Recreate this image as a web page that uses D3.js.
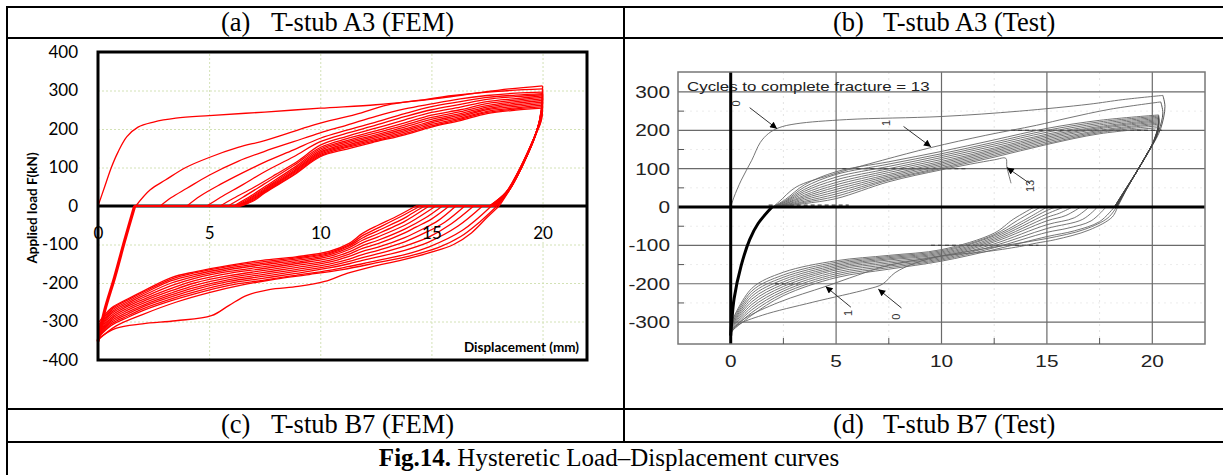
<!DOCTYPE html>
<html>
<head>
<meta charset="utf-8">
<script src="https://cdn.jsdelivr.net/npm/d3@7"></script>
<style>
  body { margin: 0; background: #fff; }
  svg { display: block; }
</style>
</head>
<body>
<svg id="fig" width="1223" height="475"></svg>
<script>
// ---------- panel (a): FEM (mm, kN) ----------
const femTicksX = [0, 5, 10, 15, 20]
const femTicksY = [400, 300, 200, 100, 0, -100, -200, -300, -400]
const femGridX = [5, 10, 15, 20]
const femGridY = [300, 200, 100, -100, -200, -300]

// reloading branch at zero displacement, shared by every cycle
const femReload = [[0, -352], [0.3, -272], [0.75, -185], [1.2, -90], [1.65, 0]]

// loading branches, cycle 0 .. 13
const femUpper = [
  [[0,0],[0.3,50],[0.6,100],[0.9,140],[1.3,180],[1.8,205],[2.5,218],[3.5,228],[5,235],[7.5,244],[10,254],[12.5,263],[14,271],[15.5,281],[17,293],[18.5,304],[20,312]],
  [[1.7,0],[2.35,42],[3.05,68],[3.95,100],[5,126],[6.3,152],[7.5,170],[8.7,192],[9.8,212],[11.6,238],[13,262],[14.5,275],[16,287],[18,298],[20,304]],
  [[2.8,0],[3.3,22],[4,46],[5,80],[6.3,116],[7.5,142],[8.8,167],[10,190],[11.2,210],[12.5,233],[13.8,252],[15,265],[16.3,278],[17.5,287],[18.8,293],[20,296]],
  [[4,0],[4.6,26],[5.5,56],[6.5,86],[7.5,114],[8.8,146],[10,176],[11.2,197],[12.5,218],[13.8,240],[15,258],[16.3,271],[17.5,282],[18.8,288],[20,292]],
  [[4.9,0],[5.5,22],[6.5,55],[7.5,89],[8.8,128],[10,167],[11.2,189],[12.5,210],[13.8,232],[15,250],[16.3,264],[17.5,277],[18.8,284],[20,289]],
  [[5.5,0],[6.1,20],[7,48],[8,82],[9,117],[10,158],[11.2,181],[12.5,202],[13.8,224],[15,243],[16.3,257],[17.5,271],[18.8,279],[20,286]],
  [[5.85,0],[6.5,22],[7.5,58],[8.8,105],[10,152],[11.2,175],[12.5,195],[13.8,216],[15,236],[16.3,250],[17.5,266],[18.8,275],[20,282]],
  [[6.1,0],[6.7,20],[7.5,50],[8.8,99],[10,148],[11.2,170],[12.5,190],[13.8,210],[15,230],[16.3,245],[17.5,261],[18.8,271],[20,278]],
  [[6.2,0],[6.8,20],[7.5,46],[8.8,95],[10,144],[11.2,166],[12.5,185],[13.8,205],[15,225],[16.3,240],[17.5,257],[18.8,267],[20,274]],
  [[6.25,0],[6.85,19],[7.5,43],[8.8,91],[10,140],[11.2,162],[12.5,181],[13.8,200],[15,220],[16.3,236],[17.5,253],[18.8,263],[20,270]],
  [[6.3,0],[6.9,18],[7.5,40],[8.8,88],[10,137],[11.2,158],[12.5,177],[13.8,196],[15,216],[16.3,232],[17.5,250],[18.8,259],[20,266]],
  [[6.35,0],[6.95,17],[7.5,38],[8.8,85],[10,134],[11.2,155],[12.5,173],[13.8,192],[15,212],[16.3,228],[17.5,246],[18.8,255],[20,262]],
  [[6.4,0],[7,16],[7.5,36],[8.8,82],[10,131],[11.2,152],[12.5,170],[13.8,188],[15,208],[16.3,225],[17.5,243],[18.8,252],[20,258]],
  [[6.45,0],[7.05,15],[7.5,34],[8.8,80],[10,128],[11.2,148],[12.5,167],[13.8,185],[15,205],[16.3,222],[17.5,240],[18.8,249],[20,254]]
]

// unloading branches from 20 mm
const femUnload = [
  [[20,312],[19.97,265],[19.75,195],[19.15,112],[18.6,50],[18.05,0]],
  [[20,304],[19.97,258],[19.72,190],[19.12,108],[18.57,47],[17.98,0]],
  [[20,296],[19.96,252],[19.7,186],[19.1,105],[18.55,45],[17.93,0]],
  [[20,292],[19.96,249],[19.68,183],[19.08,103],[18.53,44],[17.88,0]],
  [[20,289],[19.96,246],[19.66,181],[19.06,101],[18.51,43],[17.84,0]],
  [[20,286],[19.95,243],[19.64,179],[19.04,99],[18.49,42],[17.8,0]],
  [[20,282],[19.95,240],[19.62,176],[19.02,97],[18.47,41],[17.77,0]],
  [[20,278],[19.95,237],[19.6,174],[19,96],[18.45,40],[17.74,0]],
  [[20,274],[19.94,234],[19.58,171],[18.98,94],[18.43,39],[17.71,0]],
  [[20,270],[19.94,231],[19.56,169],[18.96,93],[18.41,38],[17.68,0]],
  [[20,266],[19.94,228],[19.54,166],[18.94,91],[18.39,37],[17.66,0]],
  [[20,262],[19.93,225],[19.52,164],[18.92,90],[18.37,36],[17.64,0]],
  [[20,258],[19.93,222],[19.5,161],[18.9,88],[18.35,35],[17.62,0]],
  [[20,254],[19.93,219],[19.48,159],[18.88,87],[18.33,34],[17.6,0]]
]

// compression branches back to zero displacement
const femLower = [
  [[18.05,0],[17.5,-30],[16.8,-70],[16,-100],[15,-120],[13.7,-140],[12.3,-158],[11.2,-175],[10.2,-196],[9,-209],[7.7,-217],[6.7,-232],[5.9,-258],[5.1,-285],[3.5,-298],[2,-306],[0.8,-318],[0,-345]],
  [[17.95,0],[17.2,-40],[16.3,-80],[15.3,-108],[14,-130],[12.5,-148],[11,-165],[9.5,-178],[8,-190],[6.5,-205],[5,-225],[3.5,-250],[2,-282],[0.8,-312],[0,-348]],
  [[17.7,0],[16.4,-63],[14.9,-106],[13.8,-126],[12.6,-141],[11.9,-150],[11.3,-157],[10.4,-167],[8.9,-180],[7.4,-193],[5.9,-206],[4.35,-228],[3.3,-246],[2.1,-270],[1.35,-289],[0.6,-310],[0,-342]],
  [[17.3,0],[16.2,-52],[14.9,-93],[13.8,-115],[12.6,-132],[11.9,-141],[11.3,-150],[10.4,-161],[8.9,-175],[7.4,-188],[5.9,-201],[4.35,-223],[3.3,-241],[2.1,-265],[1.35,-285],[0.6,-306],[0,-341]],
  [[16.9,0],[15.9,-46],[14.9,-80],[13.8,-104],[12.6,-124],[11.9,-134],[11.3,-144],[10.4,-156],[8.9,-170],[7.4,-183],[5.9,-196],[4.35,-217],[3.3,-236],[2.1,-260],[1.35,-280],[0.6,-302],[0,-339]],
  [[16.5,0],[15.6,-42],[14.7,-70],[13.8,-93],[12.6,-115],[11.9,-126],[11.3,-138],[10.4,-151],[8.9,-165],[7.4,-178],[5.9,-191],[4.35,-212],[3.3,-231],[2.1,-256],[1.35,-275],[0.6,-298],[0,-337]],
  [[16.1,0],[15.3,-38],[14.5,-63],[13.8,-82],[12.6,-107],[11.9,-118],[11.3,-131],[10.4,-146],[8.9,-160],[7.4,-173],[5.9,-186],[4.35,-206],[3.3,-226],[2.1,-251],[1.35,-270],[0.6,-294],[0,-335]],
  [[15.8,0],[15,-34],[14.3,-55],[13.8,-70],[12.6,-98],[11.9,-110],[11.3,-125],[10.4,-141],[8.9,-155],[7.4,-168],[5.9,-181],[4.35,-200],[3.3,-220],[2.1,-246],[1.35,-265],[0.6,-290],[0,-333]],
  [[15.5,0],[14.7,-32],[13.8,-60],[12.6,-89],[11.9,-103],[11.3,-119],[10.4,-136],[8.9,-150],[7.4,-163],[5.9,-175],[4.35,-194],[3.3,-214],[2.1,-241],[1.35,-260],[0.6,-285],[0,-330]],
  [[15.2,0],[14.4,-30],[13.8,-50],[12.6,-80],[11.9,-96],[11.3,-113],[10.4,-131],[8.9,-146],[7.4,-158],[5.9,-170],[4.35,-188],[3.3,-207],[2.1,-236],[1.35,-256],[0.6,-280],[0,-327]],
  [[14.9,0],[14.2,-26],[13.8,-40],[12.6,-72],[11.9,-89],[11.3,-108],[10.4,-127],[8.9,-142],[7.4,-153],[5.9,-165],[4.35,-183],[3.3,-200],[2.1,-231],[1.35,-252],[0.6,-276],[0,-323]],
  [[14.7,0],[14.1,-20],[13.8,-31],[12.6,-64],[11.9,-83],[11.3,-104],[10.4,-124],[8.9,-138],[7.4,-149],[5.9,-161],[4.35,-178],[3.3,-194],[2.1,-226],[1.35,-248],[0.6,-272],[0,-318]],
  [[14.5,0],[13.8,-22],[12.6,-57],[11.9,-77],[11.3,-101],[10.4,-121],[8.9,-135],[7.4,-145],[5.9,-157],[4.35,-174],[3.3,-190],[2.1,-222],[1.35,-244],[0.6,-268],[0,-312]],
  [[14.3,0],[13.4,-28],[12.6,-50],[11.9,-71],[11.3,-97],[10.4,-118],[8.9,-132],[7.4,-141],[5.9,-154],[4.35,-171],[3.3,-186],[2.1,-219],[1.35,-241],[0.6,-265],[0,-305]]
]

// ---------- panel (b): Test ----------
const testTicksX = [0, 5, 10, 15, 20]
const testTicksY = [300, 200, 100, 0, -100, -200, -300]
const testGridX = [5, 10, 15, 20]
const testGridY = [300, 200, 100, -100, -200, -300]
const testMinorX = [2.5, 7.5, 12.5, 17.5]
const testMinorY = [250, 150, 50, -50, -150, -250]

const testReload = [[0,-335],[0.05,-300],[0.16,-239],[0.49,-154],[0.9,-85],[1.3,-43],[1.96,0]]

const testUpper = [
  [[0,0],[0.15,25],[0.5,70],[1,122],[1.4,168],[1.8,192],[2.3,207],[3.1,217],[5.5,228],[10,236],[13.7,250],[17,268],[18.6,280],[20.5,291]],
  [[2,0],[2.3,14],[3.1,52],[4.7,83],[7.2,122],[9.5,155],[12.1,187],[14.5,213],[16,232],[18,255],[20.4,274]],
  [[2,0],[2.6,20],[3.5,58],[5,92],[7.5,118],[10,145],[12.5,175],[15,205],[17.5,226],[20.3,240]],
  [[2,0],[2.6,17],[3.5,52],[5,85],[7.5,112],[10,139],[12.5,169],[15,200],[17.5,222],[20.3,237]],
  [[2,0],[2.6,15],[3.5,46],[5,78],[7.5,106],[10,134],[12.5,164],[15,195],[17.5,218],[20.3,234]],
  [[2,0],[2.6,13],[3.5,41],[5,71],[7.5,100],[10,129],[12.5,159],[15,190],[17.5,214],[20.3,231]],
  [[2,0],[2.6,11],[3.5,36],[5,64],[7.5,95],[10,124],[12.5,154],[15,186],[17.5,210],[20.3,228]],
  [[2,0],[2.6,9],[3.5,31],[5,58],[7.5,90],[10,119],[12.5,150],[15,182],[17.5,207],[20.3,225]],
  [[2,0],[2.6,8],[3.5,27],[5,52],[7.5,85],[10,115],[12.5,146],[15,178],[17.5,204],[20.3,222]],
  [[2,0],[2.6,6],[3.5,23],[5,46],[7.5,81],[10,111],[12.5,142],[15,174],[17.5,200],[20.3,219]],
  [[2,0],[2.6,5],[3.5,19],[5,40],[7.5,77],[10,107],[12.5,138],[15,170],[17.5,197],[20.3,216]],
  [[2,0],[2.6,4],[3.5,15],[5,34],[7.5,73],[10,103],[12.5,134],[15,166],[17.5,194],[20.3,212]],
  [[2,0],[2.6,3],[3.5,12],[5,28],[7.5,70],[10,100],[12.5,130],[15,163],[17.5,191],[20.3,207]],
  // cycle 13 fractures at about 13 mm
  [[2,0],[2.6,2],[3.5,9],[5,22],[7.5,66],[10,97],[12.5,123],[13.05,127],[13.1,105],[13.3,62]]
]

const testUnload = [
  [[20.5,291],[20.6,262],[20.4,205],[19.95,155],[19.35,100],[18.8,48],[18.35,0]],
  [[20.4,274],[20.5,245],[20.3,198],[19.9,152],[19.32,98],[18.78,47],[18.3,0]],
  [[20.3,240],[20.3,212],[20.15,180],[19.85,148],[19.3,96],[18.76,46],[18.3,0]],
  [[20.3,237],[20.3,209],[20.14,178],[19.84,147],[19.29,95],[18.75,45],[18.28,0]],
  [[20.3,234],[20.29,207],[20.13,176],[19.83,146],[19.28,94],[18.74,45],[18.26,0]],
  [[20.3,231],[20.28,205],[20.12,175],[19.82,145],[19.27,93],[18.73,44],[18.25,0]],
  [[20.3,228],[20.27,203],[20.1,173],[19.8,143],[19.26,92],[18.72,44],[18.24,0]],
  [[20.3,225],[20.26,201],[20.08,171],[19.79,142],[19.25,91],[18.71,43],[18.23,0]],
  [[20.3,222],[20.25,199],[20.06,169],[19.78,141],[19.24,90],[18.7,43],[18.22,0]],
  [[20.3,219],[20.24,197],[20.04,167],[19.76,139],[19.23,89],[18.69,42],[18.21,0]],
  [[20.3,216],[20.22,195],[20.02,165],[19.74,138],[19.22,88],[18.68,42],[18.2,0]],
  [[20.3,212],[20.2,193],[20,163],[19.72,136],[19.2,87],[18.67,41],[18.2,0]],
  [[20.3,207],[20.18,190],[19.98,161],[19.7,134],[19.18,86],[18.66,41],[18.2,0]]
]

const testLower = [
  [[18.35,0],[18.1,-26],[17,-60],[15.4,-85],[14.5,-94],[13.7,-103],[12,-117],[10,-128],[8.8,-145],[7.8,-171],[7.2,-201],[6.5,-214],[3.9,-248],[1.5,-282],[0.33,-308],[0,-330]],
  [[18.3,0],[17.9,-28],[16.8,-58],[15,-82],[13,-100],[11,-118],[9.3,-134],[8,-146],[7.2,-156],[6,-178],[4.5,-207],[2.3,-248],[0.65,-291],[0,-322]],
  [[18.2,0],[17.5,-38],[16.3,-62],[15,-77],[12.5,-111],[10,-141],[7.5,-162],[5,-184],[2.5,-231],[1,-282],[0,-325]],
  [[17.8,0],[17.1,-36],[16,-55],[15,-66],[12.5,-106],[10,-138],[7.5,-158],[5,-179],[2.5,-225],[1,-275],[0,-323]],
  [[17.4,0],[16.7,-32],[15,-56],[12.5,-101],[10,-135],[7.5,-154],[5,-174],[2.5,-219],[1,-268],[0,-321]],
  [[17,0],[16.3,-28],[15,-46],[12.5,-96],[10,-132],[7.5,-150],[5,-169],[2.5,-213],[1,-261],[0,-319]],
  [[16.6,0],[15.9,-22],[15,-36],[12.5,-91],[10,-129],[7.5,-146],[5,-164],[2.5,-207],[1,-254],[0,-317]],
  [[16.2,0],[15.6,-16],[15,-27],[12.5,-87],[10,-126],[7.5,-142],[5,-160],[2.5,-201],[1,-247],[0,-315]],
  [[15.8,0],[15,-18],[12.5,-83],[10,-123],[7.5,-138],[5,-156],[2.5,-195],[1,-240],[0,-313]],
  [[15.4,0],[15,-9],[12.5,-79],[10,-120],[7.5,-135],[5,-152],[2.5,-189],[1,-233],[0,-311]],
  [[15,0],[13.8,-38],[12.5,-75],[10,-117],[7.5,-132],[5,-148],[2.5,-183],[1,-226],[0,-309]],
  [[14.7,0],[13.6,-35],[12.5,-72],[10,-114],[7.5,-129],[5,-144],[2.5,-177],[1,-219],[0,-306]],
  [[14.4,0],[13.4,-32],[12.5,-68],[10,-111],[7.5,-126],[5,-140],[2.5,-170],[1,-212],[0,-303]]
]

// dashed pieces of the scanned test record: [x from, x to, load]
const testDashes = [[13.3,20.6,200],[5.3,11.2,100],[1.8,5.6,5],[9.5,14.6,-100],[2.1,3.2,-200]]

// arrows [x1, y1, x2, y2] and cycle labels
const testArrows = [[0.9,259,2.2,204],[8.2,210,9.5,157],[14.2,61,13.1,103],[5.7,-261,4.5,-207],[8.1,-263,7.0,-214]]
const testLabels = [["0",0.25,270],["1",7.35,219],["13",14.2,55],["1",5.55,-276],["0",7.85,-286]]

const headers = [
  ["(a)", "T-stub A3 (FEM)"],
  ["(b)", "T-stub A3 (Test)"],
  ["(c)", "T-stub B7 (FEM)"],
  ["(d)", "T-stub B7 (Test)"]
]

let svg = d3.select("#fig")

// ---------- table ----------
let table = svg.append("g").attr("stroke", "#000").attr("stroke-width", 2)
table.append("line").attr("x1", 7).attr("x2", 1223).attr("y1", 7).attr("y2", 7)
table.append("line").attr("x1", 7).attr("x2", 1223).attr("y1", 38).attr("y2", 38)
table.append("line").attr("x1", 7).attr("x2", 1223).attr("y1", 409).attr("y2", 409)
table.append("line").attr("x1", 7).attr("x2", 1223).attr("y1", 442).attr("y2", 442)
table.append("line").attr("x1", 7).attr("x2", 7).attr("y1", 6).attr("y2", 475)
table.append("line").attr("x1", 624).attr("x2", 624).attr("y1", 6).attr("y2", 442)

let headPos = [[221, 31], [833, 31], [221, 433], [833, 433]]
headers.forEach(function (h, i) {
  let t = svg.append("text")
    .attr("x", headPos[i][0])
    .attr("y", headPos[i][1])
    .style("font-family", "'Liberation Serif', 'Times New Roman', serif")
    .style("font-size", "26.5px")
  t.append("tspan").text(h[0])
  t.append("tspan").attr("x", headPos[i][0] + 50).text(h[1])
})

let caption = svg.append("text")
  .attr("x", 609)
  .attr("y", 466)
  .attr("text-anchor", "middle")
  .style("font-family", "'Liberation Serif', 'Times New Roman', serif")
  .style("font-size", "25px")
caption.append("tspan").style("font-weight", "bold").text("Fig.14.")
caption.append("tspan").text(" Hysteretic Load\u2013Displacement curves")

// ---------- panel (a) ----------
let xA = d3.scaleLinear().domain([0, 22]).range([98, 587])
let yA = d3.scaleLinear().domain([-400, 400]).range([360, 52])
let gA = svg.append("g")

gA.append("g")
  .attr("transform", `translate(0,${yA(-400)})`)
  .call(d3.axisBottom(xA).tickValues(femGridX).tickSize(-(yA(-400) - yA(400))).tickFormat(""))
  .call(g => g.select(".domain").remove())
  .selectAll("line")
  .attr("stroke", "#d3e2b6")
  .attr("stroke-dasharray", "2,2")

gA.append("g")
  .attr("transform", `translate(${xA(0)},0)`)
  .call(d3.axisLeft(yA).tickValues(femGridY).tickSize(-(xA(22) - xA(0))).tickFormat(""))
  .call(g => g.select(".domain").remove())
  .selectAll("line")
  .attr("stroke", "#d3e2b6")
  .attr("stroke-dasharray", "2,2")

gA.append("line")
  .attr("x1", xA(0)).attr("x2", xA(22))
  .attr("y1", yA(0)).attr("y2", yA(0))
  .attr("stroke", "#000").attr("stroke-width", 3)

let curveA = d3.line().x(d => xA(d[0])).y(d => yA(d[1])).curve(d3.curveCatmullRom.alpha(0.5))
let flatA = d3.line().x(d => xA(d[0])).y(d => yA(d[1]))
let red = gA.append("g").attr("fill", "none").attr("stroke", "#ff0000").attr("stroke-width", 1.3)

femUpper.forEach(function (up, k) {
  if (k > 0) {
    red.append("path").attr("d", flatA([[femReload[femReload.length - 1][0], 0], [up[0][0], 0]]))
  }
  red.append("path").attr("d", curveA(up))
  red.append("path").attr("d", curveA(femUnload[k]))
  let un = femUnload[k]
  red.append("path").attr("d", flatA([[un[un.length - 1][0], 0], [femLower[k][0][0], 0]]))
  red.append("path").attr("d", curveA(femLower[k]))
})
red.append("path").attr("d", curveA(femReload)).attr("stroke-width", 3.2)

gA.append("rect")
  .attr("x", xA(0)).attr("y", yA(400))
  .attr("width", xA(22) - xA(0)).attr("height", yA(-400) - yA(400))
  .attr("fill", "none").attr("stroke", "#000").attr("stroke-width", 3)

let fontA = "Lato, Carlito, Calibri, sans-serif"
gA.append("g")
  .attr("transform", `translate(${xA(0)},0)`)
  .call(d3.axisLeft(yA).tickValues(femTicksY).tickSize(0).tickPadding(20).tickFormat(d => String(d)))
  .call(g => g.select(".domain").remove())
  .selectAll("text")
  .style("font-family", fontA).style("font-size", "17px").attr("fill", "#000")

gA.append("g")
  .attr("transform", `translate(0,${yA(0)})`)
  .call(d3.axisBottom(xA).tickValues(femTicksX).tickSize(0).tickPadding(21))
  .call(g => g.select(".domain").remove())
  .selectAll("text")
  .style("font-family", fontA).style("font-size", "17px").attr("fill", "#000")

gA.append("text")
  .attr("transform", `translate(37,${yA(0) + 2}) rotate(-90)`)
  .attr("text-anchor", "middle")
  .style("font-family", fontA).style("font-weight", "bold").style("font-size", "13.5px")
  .text("Applied load F(kN)")

gA.append("text")
  .attr("x", 579).attr("y", 352)
  .attr("text-anchor", "end")
  .style("font-family", fontA).style("font-weight", "bold").style("font-size", "13.5px")
  .text("Displacement (mm)")

// ---------- panel (b) ----------
let xB = d3.scaleLinear().domain([-2.5, 22.5]).range([678, 1205])
let yB = d3.scaleLinear().domain([-357, 352]).range([344, 72])
let gB = svg.append("g")
let fontB = "'Liberation Sans', Arial, Helvetica, sans-serif"
let stretch = 1.3

// faint scan texture along the minor positions
gB.append("g").selectAll("line").data(testMinorX).join("line")
  .attr("x1", d => xB(d)).attr("x2", d => xB(d)).attr("y1", yB(352)).attr("y2", yB(-357))
  .attr("stroke", "#e4e4e4").attr("stroke-dasharray", "2,4")
gB.append("g").selectAll("line").data(testMinorY).join("line")
  .attr("x1", xB(-2.5)).attr("x2", xB(22.5)).attr("y1", d => yB(d)).attr("y2", d => yB(d))
  .attr("stroke", "#ececec").attr("stroke-dasharray", "2,4")

gB.append("g").selectAll("line").data(testGridX).join("line")
  .attr("x1", d => xB(d)).attr("x2", d => xB(d)).attr("y1", yB(352)).attr("y2", yB(-357))
  .attr("stroke", "#6a6a6a").attr("stroke-width", 1.2)
gB.append("g").selectAll("line").data(testGridY).join("line")
  .attr("x1", xB(-2.5)).attr("x2", xB(22.5)).attr("y1", d => yB(d)).attr("y2", d => yB(d))
  .attr("stroke", "#6a6a6a").attr("stroke-width", 1.2)

gB.append("g").selectAll("line").data(testDashes).join("line")
  .attr("x1", d => xB(d[0])).attr("x2", d => xB(d[1])).attr("y1", d => yB(d[2])).attr("y2", d => yB(d[2]))
  .attr("stroke", "#444").attr("stroke-width", 1.3).attr("stroke-dasharray", "4,3")

gB.append("text")
  .attr("transform", `translate(687,91) scale(${stretch},1)`)
  .style("font-family", fontB).style("font-size", "13px").attr("fill", "#222")
  .text("Cycles to complete fracture = 13")

let curveB = d3.line().x(d => xB(d[0])).y(d => yB(d[1])).curve(d3.curveCatmullRom.alpha(0.5))
let flatB = d3.line().x(d => xB(d[0])).y(d => yB(d[1]))
let grey = gB.append("g").attr("fill", "none").attr("stroke", "#666").attr("stroke-width", 0.9)

testUpper.forEach(function (up, k) {
  grey.append("path").attr("d", curveB(up))
  if (k < testUnload.length) {
    let un = testUnload[k]
    grey.append("path").attr("d", curveB(un)).attr("stroke", "#444")
    grey.append("path").attr("d", flatB([[un[un.length - 1][0], 0], [testLower[k][0][0], 0]]))
    grey.append("path").attr("d", curveB(testLower[k]))
  }
})
grey.append("path").attr("d", curveB(testReload)).attr("stroke", "#000").attr("stroke-width", 3)

// axes through the origin
gB.append("line")
  .attr("x1", xB(-2.5)).attr("x2", xB(22.5)).attr("y1", yB(0)).attr("y2", yB(0))
  .attr("stroke", "#000").attr("stroke-width", 3)
gB.append("line")
  .attr("x1", xB(0)).attr("x2", xB(0)).attr("y1", yB(352)).attr("y2", yB(-357))
  .attr("stroke", "#000").attr("stroke-width", 3)

gB.append("rect")
  .attr("x", xB(-2.5)).attr("y", yB(352))
  .attr("width", xB(22.5) - xB(-2.5)).attr("height", yB(-357) - yB(352))
  .attr("fill", "none").attr("stroke", "#777").attr("stroke-width", 1.5)

gB.append("g").selectAll("line").data(testMinorX).join("line")
  .attr("x1", d => xB(d)).attr("x2", d => xB(d)).attr("y1", yB(-357)).attr("y2", yB(-357) - 6)
  .attr("stroke", "#555")
gB.append("g").selectAll("line").data(testMinorY).join("line")
  .attr("x1", xB(-2.5)).attr("x2", xB(-2.5) + 6).attr("y1", d => yB(d)).attr("y2", d => yB(d))
  .attr("stroke", "#555")

gB.append("g").selectAll("text").data(testTicksX).join("text")
  .attr("transform", d => `translate(${xB(d)},367) scale(${stretch},1)`)
  .attr("text-anchor", "middle")
  .style("font-family", fontB).style("font-size", "16px").attr("fill", "#222")
  .text(d => String(d))

gB.append("g").selectAll("text").data(testTicksY).join("text")
  .attr("transform", d => `translate(670,${yB(d) + 6}) scale(${stretch},1)`)
  .attr("text-anchor", "end")
  .style("font-family", fontB).style("font-size", "16px").attr("fill", "#222")
  .text(d => String(d))

// arrows and cycle numbers
svg.append("defs").append("marker")
  .attr("id", "head")
  .attr("viewBox", "0 0 10 10")
  .attr("refX", 10).attr("refY", 5)
  .attr("markerWidth", 11).attr("markerHeight", 7)
  .attr("markerUnits", "userSpaceOnUse")
  .attr("orient", "auto")
  .append("path").attr("d", "M0,0L10,5L0,10Z").attr("fill", "#000")

gB.append("g").selectAll("line").data(testArrows).join("line")
  .attr("x1", d => xB(d[0])).attr("y1", d => yB(d[1]))
  .attr("x2", d => xB(d[2])).attr("y2", d => yB(d[3]))
  .attr("stroke", "#333").attr("stroke-width", 1)
  .attr("marker-end", "url(#head)")

gB.append("g").selectAll("text").data(testLabels).join("text")
  .attr("transform", d => `translate(${xB(d[1])},${yB(d[2])}) rotate(-90)`)
  .attr("text-anchor", "middle")
  .attr("dominant-baseline", "central")
  .style("font-family", fontB).style("font-size", "11px").attr("fill", "#333")
  .text(d => d[0])
</script>
</body>
</html>
